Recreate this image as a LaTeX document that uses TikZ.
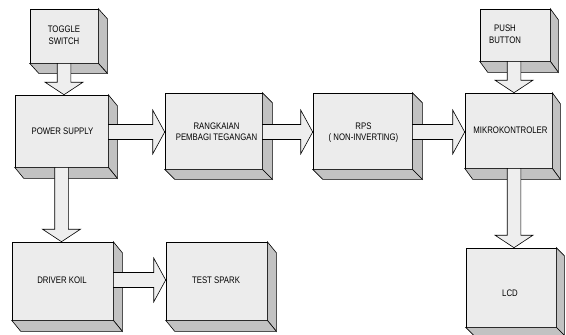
\documentclass[tikz,border=0pt]{standalone}
\usepackage{fontspec}
\setmainfont{Liberation Sans}[FakeStretch=0.82]
\usetikzlibrary{calc}
\definecolor{facegray}{RGB}{236,236,236}
\definecolor{sidegray}{RGB}{194,194,194}
\definecolor{arrowgray}{RGB}{238,238,238}
\tikzset{
  face/.style={draw=black, line width=0.6pt, fill=facegray, inner sep=0pt, minimum width=#1},
  side/.style={draw=black, line width=0.6pt, fill=sidegray, line join=miter},
  barrow/.style={draw=black, line width=0.6pt, fill=arrowgray, line join=miter},
  lbl/.style={inner sep=0pt, align=center, font=\fontsize{9.5}{10.5}\selectfont},
  lbltall/.style={inner sep=0pt, align=center, font=\fontsize{9.5}{12}\selectfont}
}
% #1 node name, #2 dx, #3 dy
\newcommand\boxsides[3]{%
  \draw[side] (#1.north east) -- ++(#2,#3) -- ($(#1.south east)+(#2,#3)$) -- (#1.south east) -- cycle;
  \draw[side] (#1.south west) -- (#1.south east) -- ++(#2,#3) -- ($(#1.south west)+(#2,#3)$) -- cycle;
}
% horizontal block arrow: #1 from, #2 to, #3 vertical offset (pt, down positive)
\newcommand\harrow[3]{%
  \draw[barrow] let \p1=(#1.east), \p2=(#2.west), \n1={\y2-#3} in
    (\x1,\n1+7.5pt) -- (\x2-12pt,\n1+7.5pt) -- (\x2-12pt,\n1+22pt) -- (\x2,\n1)
    -- (\x2-12pt,\n1-22pt) -- (\x2-12pt,\n1-7.5pt) -- (\x1,\n1-7.5pt) -- cycle;
}
% vertical block arrow: #1 from, #2 to, #3 horizontal offset (pt)
\newcommand\varrow[3]{%
  \draw[barrow] let \p1=(#1.south), \p2=(#2.north), \n1={\x1+#3} in
    (\n1-6.8pt,\y1) -- (\n1-6.8pt,\y2+12.5pt) -- (\n1-19pt,\y2+12.5pt) -- (\n1,\y2)
    -- (\n1+19pt,\y2+12.5pt) -- (\n1+6.8pt,\y2+12.5pt) -- (\n1+6.8pt,\y1) -- cycle;
}
\begin{document}
\begin{tikzpicture}[x=1pt,y=-1pt]
\useasboundingbox (0,0) rectangle (566,335);
\fill[white] (0,0) rectangle (566,335);

% front faces
\node[face=68pt, minimum height=54pt] (toggle) at (64,36) {};
\node[face=70pt, minimum height=52pt] (push) at (515,35) {};
\node[face=93pt, minimum height=72pt] (power) at (61.5,131) {};
\node[face=97pt, minimum height=76pt] (rang) at (213.5,131) {};
\node[face=99pt, minimum height=76pt] (rps) at (362.5,131) {};
\node[face=87pt, minimum height=75pt] (mikro) at (508.5,130.5) {};
\node[face=90pt, minimum height=79pt] (lcd) at (511,287.5) {};
\node[face=101pt, minimum height=78pt] (driver) at (62.5,281) {};
\node[face=101pt, minimum height=78pt] (test) at (216.5,281) {};

% extrusion faces
\boxsides{toggle}{9}{10}
\boxsides{push}{8}{11}
\boxsides{power}{9}{11}
\boxsides{rang}{10}{10}
\boxsides{rps}{10}{10}
\boxsides{mikro}{8}{11}
\boxsides{lcd}{8}{8}
\boxsides{driver}{9}{11}
\boxsides{test}{9}{11}

% labels
\node[lbltall] (ttoggle) at (64,35) {TOGGLE\\SWITCH};
\node[lbltall] (tpush) at (505,34) {PUSH\\BUTTON};
\node[lbl] (tpower) at (62.5,131) {POWER SUPPLY};
\node[lbl] (trang) at (216.5,131.5) {RANGKAIAN\\PEMBAGI TEGANGAN};
\node[lbl] (trps) at (363.5,132.5) {RPS\\( NON-INVERTING)};
\node[lbl] (tmikro) at (510.5,130.5) {MIKROKONTROLER};
\node[lbl] (tlcd) at (510,293) {LCD};
\node[lbl] (tdriver) at (62,280) {DRIVER KOIL};
\node[lbl] (ttest) at (216,280) {TEST SPARK};

% block arrows
\harrow{power}{rang}{1pt}
\harrow{rang}{rps}{1pt}
\harrow{rps}{mikro}{1.5pt}
\harrow{driver}{test}{-1pt}
\varrow{toggle}{power}{0pt}
\varrow{push}{mikro}{-1pt}
\varrow{power}{driver}{0pt}
\varrow{mikro}{lcd}{5.5pt}
\end{tikzpicture}
\end{document}
